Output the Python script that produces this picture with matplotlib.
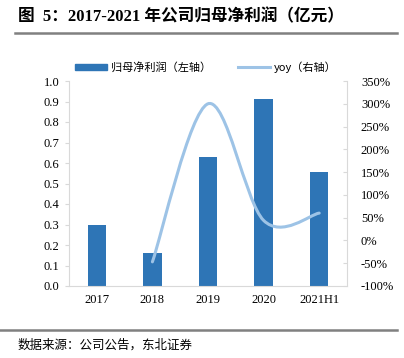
import matplotlib
matplotlib.use("Agg")
import matplotlib.pyplot as plt
from matplotlib.path import Path
from matplotlib.patches import PathPatch, Patch
from matplotlib.lines import Line2D
from matplotlib.ticker import FuncFormatter
import numpy as np

categories = ["2017", "2018", "2019", "2020", "2021H1"]
profit = [0.30, 0.16, 0.63, 0.91, 0.555]
yoy_cats = ["2018", "2019", "2020", "2021H1"]
yoy = [-0.47, 3.00, 0.44, 0.60]

left_ticks = [0.0, 0.1, 0.2, 0.3, 0.4, 0.5, 0.6, 0.7, 0.8, 0.9, 1.0]
right_ticks = [-1.0, -0.5, 0.0, 0.5, 1.0, 1.5, 2.0, 2.5, 3.0, 3.5]

title = "图  5：2017-2021 年公司归母净利润（亿元）"
source = "数据来源：公司公告，东北证券"
bar_label = "归母净利润（左轴）"
line_label = "yoy（右轴）"

BAR = "#2E75B6"
LINE = "#9DC3E6"
GRID = "#D9D9D9"

cjk = ["Noto Sans CJK SC", "DejaVu Sans"]
serif = ["Liberation Serif", "Noto Sans CJK SC"]
plt.rcParams["font.family"] = serif

fig = plt.figure(figsize=(4.04, 3.58), dpi=100)
ax = fig.add_axes([69 / 404, 1 - 286 / 358, (347 - 69) / 404, (286 - 81) / 358])
x = np.arange(len(categories))
ax.bar(x, profit, width=0.33, color=BAR, zorder=2)
ax.set_xlim(-0.5, len(categories) - 0.5)
ax.set_ylim(0, 1.0)
ax.set_yticks(left_ticks)
ax.set_yticklabels([f"{v:.1f}" for v in left_ticks])
ax.set_xticks(x)
ax.set_xticklabels(categories)
for s in ["top", "right"]:
    ax.spines[s].set_visible(False)
for s in ["left", "bottom"]:
    ax.spines[s].set_color(GRID)
ax.tick_params(axis="y", length=3, color=GRID, labelsize=9, pad=4, direction="out")
ax.tick_params(axis="x", length=0, labelsize=9, pad=6)

ax2 = ax.twinx()
ax2.set_ylim(-1.0, 3.5)
ax2.set_yticks(right_ticks)
ax2.yaxis.set_major_formatter(FuncFormatter(lambda v, p: f"{v*100:.0f}%"))
for s in ["top", "left", "bottom"]:
    ax2.spines[s].set_visible(False)
ax2.spines["right"].set_color(GRID)
ax2.tick_params(axis="y", length=3, color=GRID, labelsize=9, pad=10, direction="in")

# smooth line (Catmull-Rom rendered as cubic Bezier through the data points)
xi = np.array([categories.index(c) for c in yoy_cats], dtype=float)
yi = np.array(yoy, dtype=float)
P = np.column_stack([xi, yi])
Pext = np.vstack([P[0], P, P[-1]])
verts = [tuple(P[0])]
codes = [Path.MOVETO]
for i in range(1, len(Pext) - 2):
    p0, p1, p2, p3 = Pext[i - 1], Pext[i], Pext[i + 1], Pext[i + 2]
    c1 = p1 + (p2 - p0) / 6.0
    c2 = p2 - (p3 - p1) / 6.0
    verts += [tuple(c1), tuple(c2), tuple(p2)]
    codes += [Path.CURVE4] * 3
ax2.add_patch(PathPatch(Path(verts, codes), facecolor="none", edgecolor=LINE,
                        lw=2.2, capstyle="round", zorder=3))

handles = [Patch(color=BAR), Line2D([], [], color=LINE, lw=2.2)]
leg = fig.legend(handles, [bar_label, line_label], loc="center", ncol=2,
                 bbox_to_anchor=(206 / 404, 1 - 67 / 358), frameon=False,
                 prop={"family": cjk, "size": 8}, handlelength=2.9,
                 handleheight=0.45, columnspacing=2.4, handletextpad=0.35)

fig.text(18 / 404, 1 - 17 / 358, title, family=serif, weight="bold", fontsize=12,
         va="center", ha="left")
fig.add_artist(Line2D([15 / 404, 397 / 404], [1 - 33 / 358] * 2, color="#808080", lw=1.8))
fig.add_artist(Line2D([0, 397 / 404], [1 - 330 / 358] * 2, color="#808080", lw=1.8))
fig.text(18 / 404, 1 - 345 / 358, source, family=cjk, fontsize=9, va="center", ha="left")

fig.savefig("out.png", dpi=100)
